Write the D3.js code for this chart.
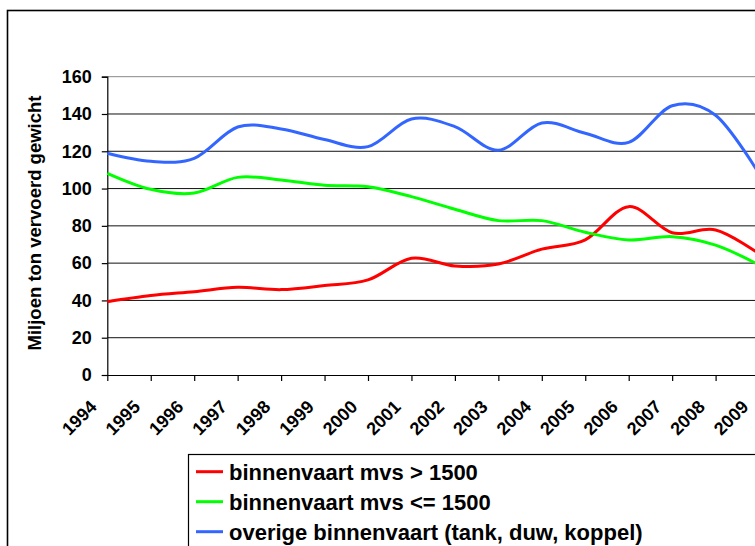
<!DOCTYPE html>
<html>
<head>
<meta charset="utf-8">
<script src="https://cdn.jsdelivr.net/npm/d3@7/dist/d3.min.js"></script>
<style>
  html, body { margin: 0; padding: 0; background: #fff; }
  svg { display: block; }
  text { font-family: Arial, "Liberation Sans", sans-serif; font-weight: bold; fill: #000; }
</style>
</head>
<body>
<svg id="chart" width="755" height="546"></svg>
<script>
const years = [1994,1995,1996,1997,1998,1999,2000,2001,2002,2003,2004,2005,2006,2007,2008,2009];
const seriesNames = [
  "binnenvaart mvs > 1500",
  "binnenvaart mvs <= 1500",
  "overige binnenvaart (tank, duw, koppel)"
];
const redValues   = [39.3, 42.6, 44.7, 47.0, 45.8, 48.0, 51.0, 62.6, 58.5, 59.5, 67.5, 72.5, 90.3, 76.3, 77.8, 65.0];
const greenValues = [108.2, 99.6, 97.6, 106.0, 104.6, 101.8, 101.0, 95.7, 88.9, 82.8, 82.8, 76.6, 72.4, 74.2, 69.7, 59.0];
const blueValues  = [118.9, 114.6, 116.2, 133.0, 132.0, 126.3, 122.5, 137.3, 133.2, 120.6, 135.2, 129.7, 124.8, 144.4, 139.3, 108.0];
const seriesColors = ["#ff0000", "#00ff00", "#3366ff"];
const yTicks = [0,20,40,60,80,100,120,140,160];
const yTitle = "Miljoen ton vervoerd gewicht";

const series = [redValues, greenValues, blueValues];

const svg = d3.select("#chart");
svg.append("rect").attr("width", 755).attr("height", 546).attr("fill", "#fff");

// outer chart border (cropped by the window)
svg.append("rect")
  .attr("x", 7.5).attr("y", 10.5).attr("width", 800).attr("height", 600)
  .attr("fill", "none").attr("stroke", "#000").attr("stroke-width", 1.6);

const plotLeft = 107.3, step = 43.45, plotTop = 76.7, plotBottom = 375;
const x = d3.scaleLinear().domain([years[0], years[years.length-1]])
  .range([plotLeft, plotLeft + step * (years.length - 1)]);
const y = d3.scaleLinear().domain([0, 160]).range([plotBottom, plotTop]);
const plotRight = x(years[years.length-1]);

// gridlines
svg.append("g").selectAll("line").data(yTicks.filter(d => d > 0)).join("line")
  .attr("x1", plotLeft).attr("x2", plotRight)
  .attr("y1", d => y(d)).attr("y2", d => y(d))
  .attr("stroke", d => d === 160 ? "#888" : "#111").attr("stroke-width", 1);

// y axis
const yAxis = d3.axisLeft(y).tickValues(yTicks).tickSize(5.5).tickPadding(10).tickFormat(d3.format("d"));
const gy = svg.append("g").attr("transform", `translate(${plotLeft},0)`).call(yAxis);
gy.select(".domain").attr("stroke", "#000").attr("stroke-width", 1.2);
gy.selectAll(".tick line").attr("stroke", "#000").attr("stroke-width", 1.2);
gy.selectAll(".tick text").attr("font-size", "18px").attr("font-family", "Arial, 'Liberation Sans', sans-serif").attr("font-weight", "bold").attr("fill", "#000");

// x axis
const xAxis = d3.axisBottom(x).tickValues(years).tickSize(6).tickFormat(d3.format("d"));
const gx = svg.append("g").attr("transform", `translate(0,${plotBottom})`).call(xAxis);
gx.select(".domain").attr("stroke", "#000").attr("stroke-width", 1.2).attr("d", `M${plotLeft},0.5H${plotRight + 40}`);
gx.selectAll(".tick line").attr("stroke", "#000").attr("stroke-width", 1.2);
gx.selectAll(".tick text")
  .attr("font-size", "18px").attr("font-family", "Arial, 'Liberation Sans', sans-serif").attr("font-weight", "bold").attr("fill", "#000")
  .attr("text-anchor", "end").attr("dy", null).attr("y", null)
  .attr("transform", "translate(-10,33) rotate(-45)");

// y title
svg.append("text")
  .attr("transform", "translate(41,223) rotate(-90)")
  .attr("text-anchor", "middle").attr("font-size", "18.5px")
  .text(yTitle);

// lines
const line = d3.line()
  .x((d, i) => x(years[i]))
  .y(d => y(d))
  .curve(d3.curveCardinal.tension(0));

svg.append("g").selectAll("path").data(series).join("path")
  .attr("d", d => line(d))
  .attr("fill", "none")
  .attr("stroke", (d, i) => seriesColors[i])
  .attr("stroke-width", 3)
  .attr("stroke-linejoin", "round");

// legend
const lg = svg.append("g");
lg.append("rect").attr("x", 188.5).attr("y", 454.5).attr("width", 700).attr("height", 200)
  .attr("fill", "#fff").attr("stroke", "#000").attr("stroke-width", 1.2);
const rows = lg.selectAll("g.row").data(seriesNames).join("g")
  .attr("transform", (d, i) => `translate(0,${471.7 + i * 30})`);
rows.append("line").attr("x1", 196).attr("x2", 223).attr("y1", 0).attr("y2", 0)
  .attr("stroke", (d, i) => seriesColors[i]).attr("stroke-width", 3);
rows.append("text").attr("x", 229).attr("y", 8).attr("font-size", "22px").text(d => d);
</script>
</body>
</html>
